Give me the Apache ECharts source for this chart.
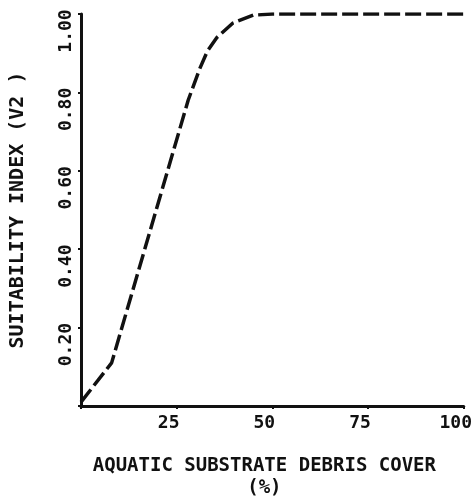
<!DOCTYPE html>
<html>
<head>
<meta charset="utf-8">
<script src="https://cdn.jsdelivr.net/npm/echarts@6/dist/echarts.min.js"></script>
<style>
  html, body { margin: 0; padding: 0; background: #fff; }
  #chart { width: 475px; height: 504px; }
</style>
</head>
<body>
<div id="chart"></div>
<script>
  // debris cover (%) vs suitability index
  const coverPct = [0, 8, 28, 31, 33, 35.5, 39.7, 45, 50, 100];
  const suitIdx  = [0.01, 0.11, 0.78, 0.86, 0.905, 0.94, 0.977, 0.997, 1.0, 1.0];
  const xTicks = [25, 50, 75, 100];
  const yTicks = ['0.20', '0.40', '0.60', '0.80', '1.00'];

  const font = "'DejaVu Sans Mono', monospace";
  const ink = '#111';

  const chart = echarts.init(document.getElementById('chart'));
  chart.setOption({
    animation: false,
    grid: { left: 81, right: 9, top: 14, bottom: 96 },
    xAxis: {
      type: 'value', min: 0, max: 100, interval: 25,
      name: 'AQUATIC SUBSTRATE DEBRIS COVER\n(%)',
      nameLocation: 'middle', nameGap: 49,
      nameTextStyle: { fontFamily: font, fontWeight: 'bold', fontSize: 19, color: ink, lineHeight: 22, padding: [0, 16, 0, 0] },
      axisLine: { lineStyle: { color: ink, width: 3 } },
      axisTick: { show: true, length: 3, lineStyle: { color: ink, width: 2 } },
      splitLine: { show: false },
      axisLabel: {
        margin: 8, fontFamily: font, fontWeight: 'bold', fontSize: 18, color: ink,
        padding: [0, 16, 0, 0],
        formatter: v => xTicks.indexOf(v) >= 0 ? String(v) : ''
      }
    },
    yAxis: {
      type: 'value', min: 0, max: 1, interval: 0.2,
      name: 'SUITABILITY INDEX (V2 )',
      nameLocation: 'middle', nameGap: 53, nameRotate: 90,
      nameTextStyle: { fontFamily: font, fontWeight: 'bold', fontSize: 20, color: ink },
      axisLine: { show: true, lineStyle: { color: ink, width: 3 } },
      axisTick: { show: true, length: 3, lineStyle: { color: ink, width: 2 } },
      splitLine: { show: false },
      axisLabel: {
        rotate: 90, align: 'center', margin: 6,
        fontFamily: font, fontWeight: 'bold', fontSize: 18, color: ink,
        padding: [0, 34, 0, 0],
        formatter: v => v === 0 ? '' : yTicks[Math.round(v / 0.2) - 1]
      }
    },
    series: [{
      type: 'line',
      data: coverPct.map((x, i) => [x, suitIdx[i]]),
      showSymbol: false,
      lineStyle: { color: ink, width: 3.5, type: [16, 5] }
    }]
  });
</script>
</body>
</html>
